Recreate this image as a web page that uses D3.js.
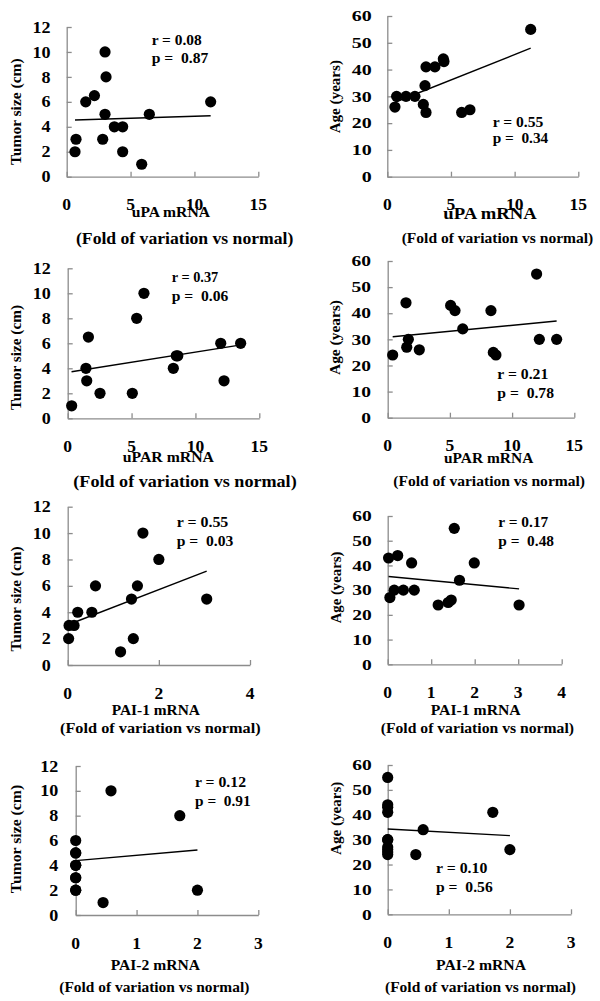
<!DOCTYPE html>
<html><head><meta charset="utf-8">
<script src="https://cdn.jsdelivr.net/npm/d3@7"></script>
<style>
body{margin:0;background:#fff}
svg text{font-family:"Liberation Serif","Times New Roman",serif;font-weight:bold;fill:#000;white-space:pre}
</style>
</head><body>
<svg id="c" width="600" height="1001"></svg>
<script>
// ---------- DATA ----------
// uPA mRNA vs tumor size
const uPA_size_x = [0.65,0.73,1.49,2.17,3.0,3.08,3.0,2.82,3.73,4.38,4.38,5.87,6.47,11.27];
const uPA_size_y = [2,3,6,6.5,10,8,5,3,4,4,2,1,5,6];
// uPA mRNA vs age
const uPA_age_x = [0.6,0.73,1.47,2.17,2.83,2.96,3.04,3.04,3.74,4.4,4.45,5.84,6.49,11.26];
const uPA_age_y = [26,30,30,30,27,34,24,41,41,44,43,24,25,55];
// uPAR mRNA vs tumor size
const uPAR_size_x = [0.31,1.43,1.49,1.62,2.53,5.06,5.4,5.97,8.27,8.5,8.62,11.98,12.24,13.54];
const uPAR_size_y = [1,4,3,6.5,2,2,8,10,4,5,5,6,3,6];
// uPAR mRNA vs age
const uPAR_age_x = [0.4,1.47,1.53,1.66,2.54,5.06,5.41,6.03,8.3,8.49,8.7,11.97,12.19,13.58];
const uPAR_age_y = [24,44,27,30,26,43,41,34,41,25,24,55,30,30];
// PAI-1 mRNA vs tumor size
const PAI1_size_x = [0.02,0.03,0.14,0.22,0.53,0.61,1.16,1.4,1.44,1.53,1.65,2.0,3.05];
const PAI1_size_y = [2,3,3,4,4,6,1,5,2,6,10,8,5];
// PAI-1 mRNA vs age
const PAI1_age_x = [0.02,0.05,0.15,0.23,0.36,0.55,0.61,1.16,1.39,1.46,1.53,1.65,1.99,3.02];
const PAI1_age_y = [43,27,30,44,30,41,30,24,25,26,55,34,41,24];
// PAI-2 mRNA vs tumor size
const PAI2_size_x = [0,0,0,0,0,0,0,0,0,0.45,0.58,1.71,2.0];
const PAI2_size_y = [6,5,4,3,2,2,4,5,3,1,10,8,2];
// PAI-2 mRNA vs age
const PAI2_age_x = [0,0,0,0,0,0,0,0,0,0,0.46,0.58,1.72,2.0];
const PAI2_age_y = [55,44,43,41,30,30,27,26,25,24,24,34,41,26];

// trend lines [x0, y0, x1, y1]
const trend_uPA_size  = [0.65,4.54,11.27,4.88];
const trend_uPA_age   = [0.6,27.8,11.26,48.0];
const trend_uPAR_size = [0.3,3.72,13.58,5.87];
const trend_uPAR_age  = [0.4,31.0,13.58,37.0];
const trend_PAI1_size = [0.02,3.07,3.05,7.12];
const trend_PAI1_age  = [0.02,35.5,3.02,30.5];
const trend_PAI2_size = [0,4.38,2.0,5.23];
const trend_PAI2_age  = [0,34.3,2.0,31.6];

// statistics labels
const rLabels = ["r = 0.08","r = 0.55","r = 0.37","r = 0.21","r = 0.55","r = 0.17","r = 0.12","r = 0.10"];
const pLabels = ["p =  0.87","p =  0.34","p =  0.06","p =  0.78","p =  0.03","p =  0.48","p =  0.91","p =  0.56"];

// axis ticks
const ticksX15 = [0,5,10,15];
const ticksX4  = [0,2,4];
const ticksX4b = [0,1,2,3,4];
const ticksX3  = [0,1,2,3];
const ticksSize = [0,2,4,6,8,10,12];
const ticksAge  = [0,10,20,30,40,50,60];

// titles
const xTitles = ["uPA mRNA","uPA mRNA","uPAR mRNA","uPAR mRNA","PAI-1 mRNA","PAI-1 mRNA","PAI-2 mRNA","PAI-2 mRNA"];
const xSubTitle = "(Fold of variation vs normal)";
const yTitleSize = "Tumor size (cm)";
const yTitleAge = "Age (years)";

// ---------- LAYOUT ----------
// ylf: [y tick label font px, horizontal stretch]
const panels = [
 {x:uPA_size_x,y:uPA_size_y,t:trend_uPA_size,xt:ticksX15,yt:ticksSize,yTitle:yTitleSize,
  L:66.7,R:258.3,T:27,B:176.7,ylx:50.5,ylf:[16,1.13],
  r:[151.7,45,50],p:[151.7,63.3,56.6],x1:[131.7,216.7,78.3,14],x2:[76,244,217.3,16],yt2:[21,111.7,106.7]},
 {x:uPA_age_x,y:uPA_age_y,t:trend_uPA_age,xt:ticksX15,yt:ticksAge,yTitle:yTitleAge,
  L:387.3,R:578.3,T:16,B:176.7,ylx:371.7,ylf:[15,1.33],
  r:[492.7,126.7,50.6],p:[492.7,143.3,55.6],x1:[443.3,218.3,93.4,16],x2:[401.7,243.3,191.6,15.5],yt2:[340,96.7,73.3]},
 {x:uPAR_size_x,y:uPAR_size_y,t:trend_uPAR_size,xt:ticksX15,yt:ticksSize,yTitle:yTitleSize,
  L:67.7,R:259.3,T:268.3,B:418.3,ylx:50.7,ylf:[16,1.13],
  r:[171.7,282.3,46.6],p:[171.7,301,56.6],x1:[122.7,461.7,91.3,15],x2:[73.3,486.7,223.4,16],yt2:[21,357.5,105]},
 {x:uPAR_age_x,y:uPAR_age_y,t:trend_uPAR_age,xt:ticksX15,yt:ticksAge,yTitle:yTitleAge,
  L:387.7,R:574.3,T:261,B:417.7,ylx:371,ylf:[15,1.3],
  r:[497.3,379,51],p:[497.3,397.7,56.7],x1:[444,462.3,89.3,15.5],x2:[393.3,485.7,191.7,15.5],yt2:[340,337.5,75]},
 {x:PAI1_size_x,y:PAI1_size_y,t:trend_PAI1_size,xt:ticksX4,yt:ticksSize,yTitle:yTitleSize,
  L:67.7,R:250,T:506.7,B:665,ylx:50.7,ylf:[16,1.13],
  r:[176.7,527.3,51.6],p:[176.7,546,56.6],x1:[111.7,714,88.3,15.5],x2:[60,733.3,200.7,15.5],yt2:[21,599,105]},
 {x:PAI1_age_x,y:PAI1_age_y,t:trend_PAI1_age,xt:ticksX4b,yt:ticksAge,yTitle:yTitleAge,
  L:387.7,R:561.7,T:516,B:664.3,ylx:371.7,ylf:[15,1.3],
  r:[498.3,527.3,50],p:[498.3,546,55.7],x1:[430.7,714,90,15.5],x2:[380.7,733.3,193.3,15.5],yt2:[340.5,587.5,71.7]},
 {x:PAI2_size_x,y:PAI2_size_y,t:trend_PAI2_size,xt:ticksX3,yt:ticksSize,yTitle:yTitleSize,
  L:75.7,R:258.3,T:766,B:915,ylx:58.3,ylf:[16,1.13],
  r:[195,787.3,51],p:[195,806,55.7],x1:[110.7,969.3,89.3,15.5],x2:[59.3,991.7,190,15.5],yt2:[21,839,108.3]},
 {x:PAI2_age_x,y:PAI2_age_y,t:trend_PAI2_age,xt:ticksX3,yt:ticksAge,yTitle:yTitleAge,
  L:387.7,R:571,T:765,B:914.3,ylx:371.7,ylf:[15,1.3],
  r:[436,873.3,51.3],p:[436,891.7,56.7],x1:[436,969.3,90,15.5],x2:[385,991.7,191,15.5],yt2:[341,818.3,73.3]}
];

const svg = d3.select("#c");
const axisColor = "#8c8c8c";

panels.forEach((P,i)=>{
  const xs = d3.scaleLinear().domain([P.xt[0],P.xt[P.xt.length-1]]).range([P.L,P.R]);
  const ys = d3.scaleLinear().domain([P.yt[0],P.yt[P.yt.length-1]]).range([P.B,P.T]);
  const g = svg.append("g");

  // axes via d3 axis (inside ticks)
  const xa = g.append("g").attr("transform",`translate(0,${P.B})`)
    .call(d3.axisBottom(xs).tickValues(P.xt).tickSizeInner(-5).tickSizeOuter(0).tickFormat(""));
  const ya = g.append("g").attr("transform",`translate(${P.L},0)`)
    .call(d3.axisLeft(ys).tickValues(P.yt).tickSizeInner(-5).tickSizeOuter(0).tickFormat(""));
  [xa,ya].forEach(a=>{a.selectAll("path,line").attr("stroke",axisColor).attr("stroke-width",1.3);});

  // tick labels
  g.selectAll(".xl").data(P.xt).enter().append("text")
    .attr("x",d=>xs(d)).attr("y",P.B+33.5).attr("text-anchor","middle")
    .style("font-size","17.5px").text(d=>d);
  g.selectAll(".yl").data(P.yt).enter().append("text")
    .attr("transform",d=>`translate(${P.ylx},${ys(d)}) scale(${P.ylf[1]},1)`)
    .attr("dy","0.35em").attr("text-anchor","end")
    .style("font-size",P.ylf[0]+"px").text(d=>d);

  // trend line
  g.append("line")
    .attr("x1",xs(P.t[0])).attr("y1",ys(P.t[1]))
    .attr("x2",xs(P.t[2])).attr("y2",ys(P.t[3]))
    .attr("stroke","#000").attr("stroke-width",1.4);

  // points
  g.selectAll("circle").data(d3.zip(P.x,P.y)).enter().append("circle")
    .attr("cx",d=>xs(d[0])).attr("cy",d=>ys(d[1])).attr("r",5.6).attr("fill","#000");

  // r, p labels
  g.append("text").attr("x",P.r[0]).attr("y",P.r[1]).style("font-size","15px")
    .attr("textLength",P.r[2]).attr("lengthAdjust","spacingAndGlyphs").text(rLabels[i]);
  g.append("text").attr("x",P.p[0]).attr("y",P.p[1]).style("font-size","15px")
    .attr("textLength",P.p[2]).attr("lengthAdjust","spacingAndGlyphs").text(pLabels[i]);

  // x titles
  g.append("text").attr("x",P.x1[0]).attr("y",P.x1[1]+0.5).style("font-size",P.x1[3]+"px")
    .attr("textLength",P.x1[2]).attr("lengthAdjust","spacingAndGlyphs").text(xTitles[i]);
  g.append("text").attr("x",P.x2[0]).attr("y",P.x2[1]).style("font-size",P.x2[3]+"px")
    .attr("textLength",P.x2[2]).attr("lengthAdjust","spacingAndGlyphs").text(xSubTitle);

  // y title
  g.append("text").attr("transform",`translate(${P.yt2[0]},${P.yt2[1]}) rotate(-90)`)
    .attr("text-anchor","middle").style("font-size","15px")
    .attr("textLength",P.yt2[2]).attr("lengthAdjust","spacingAndGlyphs").text(P.yTitle);
});
</script>
</body></html>
